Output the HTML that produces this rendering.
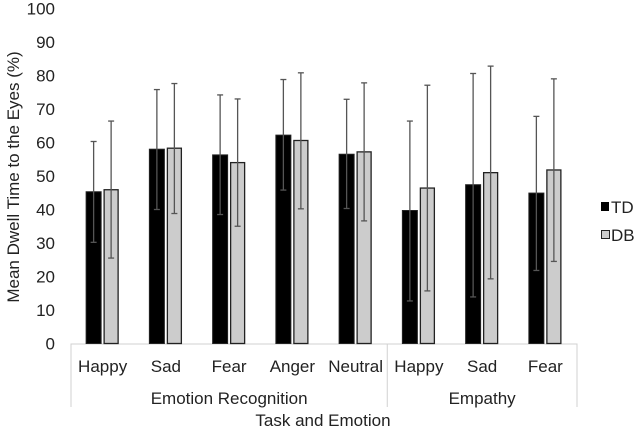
<!DOCTYPE html>
<html><head><meta charset="utf-8"><style>
body{margin:0;background:#fff}
svg{display:block;font-family:"Liberation Sans",sans-serif}
</style></head><body>
<svg id="chart" width="642" height="431"></svg>
<script>
const categories=["Happy","Sad","Fear","Anger","Neutral","Happy","Sad","Fear"];
const groups=["Emotion Recognition","Empathy"];
const groupSizes=[5,3];
const tdValues=[45.3,58,56.3,62.2,56.5,39.7,47.4,44.9];
const tdHigh=[60.3,75.8,74.2,78.8,72.9,66.4,80.6,67.8];
const tdLow=[30.2,40,38.5,45.8,40.3,12.7,13.9,21.8];
const dbValues=[45.9,58.3,54,60.6,57.2,46.4,51,51.8];
const dbHigh=[66.4,77.6,73,80.8,77.8,77.1,82.8,79];
const dbLow=[25.5,38.8,35,40.2,36.6,15.7,19.3,24.5];
const yTicks=[0,10,20,30,40,50,60,70,80,90,100];

const svg=document.getElementById('chart');
const NS='http://www.w3.org/2000/svg';
const X0=71,X1=577,Y0=343.5,Y100=8.5;
const bw=(X1-X0)/categories.length;
const y=v=>Y0-(v/100)*(Y0-Y100);
const xc=i=>X0+bw*(i+0.5);
function mk(tag,attrs,txt){const e=document.createElementNS(NS,tag);for(const k in attrs)e.setAttribute(k,attrs[k]);if(txt!==undefined)e.textContent=txt;svg.appendChild(e);return e;}

yTicks.forEach(t=>{
  const e=mk('text',{x:55,y:y(t)+6,'text-anchor':'end','font-size':17,fill:'#222'},t);
  
  
});
const yt=mk('text',{x:0,y:0,transform:'translate(19,177) rotate(-90)','text-anchor':'middle','font-size':17,fill:'#222'},'Mean Dwell Time to the Eyes (%)');



const ax=mk('line',{x1:X0,x2:X1,y1:Y0+0.5,y2:Y0+0.5,stroke:'#d0d0d0','stroke-width':1});



let idx=0;
const divs=[X0];
groupSizes.forEach((n,g)=>{
  const gx=X0+bw*(idx+n/2);
  const e=mk('text',{x:gx,y:404,'text-anchor':'middle','font-size':17,fill:'#222'},groups[g]);
  
  
  idx+=n;divs.push(X0+bw*idx);
});
divs.forEach(dx=>{
  const l=mk('line',{x1:dx,x2:dx,y1:Y0,y2:407,stroke:'#d0d0d0','stroke-width':1});
  
  
});

function errbar(cx,hi,lo){
  const l=mk('line',{x1:cx,x2:cx,y1:y(hi),y2:y(lo),stroke:'#555','stroke-width':1.3});
  
  
  [hi,lo].forEach(v=>{
    const c=mk('line',{x1:cx-3,x2:cx+3,y1:y(v),y2:y(v),stroke:'#555','stroke-width':1.3});
    
    
  });
}

categories.forEach((c,i)=>{
  const cx=xc(i);
  const t=mk('rect',{x:cx-16.5,y:y(tdValues[i]),width:15,height:Y0-y(tdValues[i]),fill:'#000',stroke:'#222','stroke-width':1});
  
  
  const d=mk('rect',{x:cx+1.5,y:y(dbValues[i]),width:14,height:Y0-y(dbValues[i]),fill:'#cccccc',stroke:'#222','stroke-width':1.3});
  
  
  errbar(cx-9,tdHigh[i],tdLow[i]);
  errbar(cx+8.5,dbHigh[i],dbLow[i]);
  const lab=mk('text',{x:cx,y:372,'text-anchor':'middle','font-size':17,fill:'#222'},c);
  
  
});

const xt=mk('text',{x:323,y:426,'text-anchor':'middle','font-size':17,fill:'#222'},'Task and Emotion');



const s1=mk('rect',{x:601,y:202,width:8,height:9,fill:'#000'});


const t1=mk('text',{x:611,y:213,'font-size':17,fill:'#222'},'TD');


const s2=mk('rect',{x:601.5,y:230.5,width:8,height:8,fill:'#ccc',stroke:'#222','stroke-width':1});


const t2=mk('text',{x:611,y:241,'font-size':17,fill:'#222'},'DB');


</script>
</body></html>
